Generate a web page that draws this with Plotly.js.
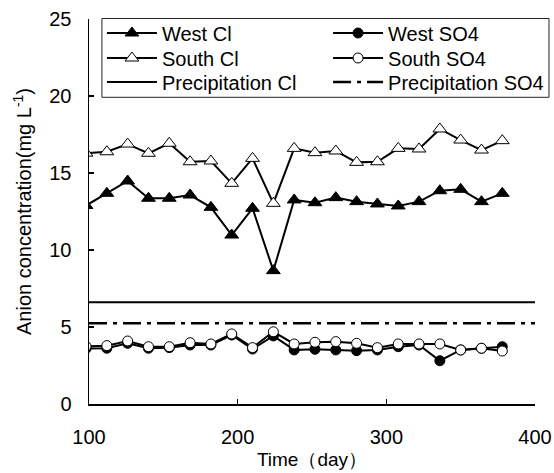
<!DOCTYPE html>
<html>
<head>
<meta charset="utf-8">
<script src="https://cdn.plot.ly/plotly-3.0.1.min.js"></script>
<style>html,body{margin:0;padding:0;background:#fff;}#chart{width:554px;height:473px;}</style>
</head>
<body>
<div id="chart"></div>
<script>
const days = [98,112,126,140,154,168,182,196,210,224,238,252,266,280,294,308,322,336,350,364,378];
const westCl = [12.89,13.68,14.48,13.36,13.36,13.57,12.77,10.97,12.71,8.66,13.25,13.07,13.4,13.14,12.99,12.86,13.14,13.85,13.94,13.14,13.68];
const southCl = [16.29,16.38,16.88,16.28,16.93,15.73,15.78,14.33,15.95,13.03,16.6,16.32,16.43,15.69,15.73,16.6,16.56,17.86,17.14,16.49,17.1];
const westSO4 = [3.6,3.62,3.94,3.62,3.66,3.83,3.83,4.48,3.57,4.42,3.51,3.55,3.51,3.46,3.51,3.72,3.83,2.81,3.51,3.62,3.72];
const southSO4 = [3.75,3.79,4.09,3.72,3.72,3.98,3.9,4.55,3.66,4.69,3.9,4.01,4.05,3.94,3.66,3.9,3.9,3.9,3.51,3.62,3.44];
const precipDays = [100,400];
const precipCl = [6.6,6.6];
const precipSO4 = [5.25,5.25];

const black = '#000';
const traces = [
  {x: days, y: westCl, name: 'West Cl', mode: 'lines+markers', legend: 'legend',
   line: {color: black, width: 2},
   marker: {symbol: 'triangle-up', size: 12, color: black, line: {color: black, width: 1}}},
  {x: days, y: westSO4, name: 'West SO4', mode: 'lines+markers', legend: 'legend2',
   line: {color: black, width: 2},
   marker: {symbol: 'circle', size: 10, color: black, line: {color: black, width: 1}}},
  {x: days, y: southCl, name: 'South Cl', mode: 'lines+markers', legend: 'legend3',
   line: {color: black, width: 2},
   marker: {symbol: 'triangle-up', size: 12, color: '#fff', line: {color: black, width: 1}}},
  {x: days, y: southSO4, name: 'South SO4', mode: 'lines+markers', legend: 'legend4',
   line: {color: black, width: 2},
   marker: {symbol: 'circle', size: 10, color: '#fff', line: {color: black, width: 1}}},
  {x: precipDays, y: precipCl, name: 'Precipitation Cl', mode: 'lines', legend: 'legend5',
   line: {color: black, width: 2}},
  {x: precipDays, y: precipSO4, name: 'Precipitation SO4', mode: 'lines', legend: 'legend6',
   line: {color: black, width: 2.5, dash: '18px,6px,4px,6px'}}
];

const colX = [0.029, 0.536];
const rowY = [0.9636, 0.8987, 0.8364];
function leg(c, r) {
  return {x: colX[c], y: rowY[r], xanchor: 'left', yanchor: 'middle',
    borderwidth: 0, bgcolor: 'rgba(0,0,0,0)', font: {size: 20}, itemwidth: 50};
}

const layout = {
  width: 554, height: 473,
  margin: {l: 89, r: 19, t: 19, b: 69, pad: 0, autoexpand: false},
  paper_bgcolor: '#fff', plot_bgcolor: '#fff',
  font: {family: 'Liberation Sans, Arial, sans-serif', color: '#000', size: 20},
  showlegend: true,
  legend: leg(0, 0), legend2: leg(1, 0),
  legend3: leg(0, 1), legend4: leg(1, 1),
  legend5: leg(0, 2), legend6: leg(1, 2),
  shapes: [{type: 'rect', xref: 'paper', yref: 'paper',
    x0: 0.029, x1: 1.0314, y0: 0.7966, y1: 1.0013,
    line: {color: '#222', width: 1}, fillcolor: '#fff', layer: 'below'}],
  xaxis: {
    range: [100, 400], tickvals: [100, 200, 300, 400],
    ticks: 'inside', ticklen: 5, tickwidth: 1.5, tickcolor: black,
    showline: true, linecolor: black, linewidth: 1.5,
    showgrid: false, zeroline: false, mirror: false,
    ticklabelstandoff: 14,
    tickfont: {size: 20},
    title: {text: 'Time（day）', font: {size: 19}, standoff: 6}
  },
  yaxis: {
    range: [0, 25], tickvals: [0, 5, 10, 15, 20, 25],
    ticks: 'inside', ticklen: 5, tickwidth: 1.5, tickcolor: black,
    showline: true, linecolor: black, linewidth: 1.5,
    showgrid: false, zeroline: false, mirror: false,
    ticklabelstandoff: 12,
    tickfont: {size: 20},
    title: {text: 'Anion concentration(mg L<sup>-1</sup>)', font: {size: 20}, standoff: 12}
  }
};

Plotly.newPlot('chart', traces, layout, {displayModeBar: false, staticPlot: true});
</script>
</body>
</html>
